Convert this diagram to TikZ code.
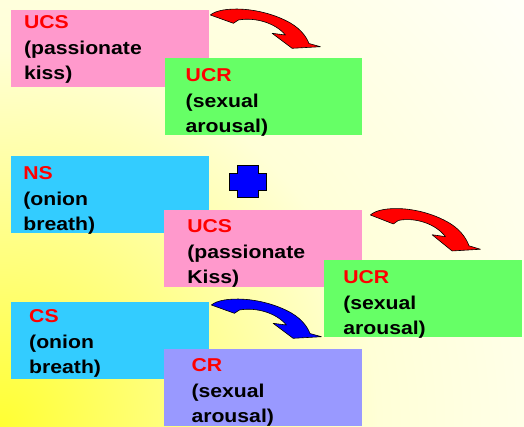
\documentclass[tikz,border=0pt]{standalone}
\usepackage{fontspec}
\newfontfamily\slidefont{Liberation Sans}[FakeStretch=1.14]
\usepackage{tikz}

\definecolor{kisspink}{RGB}{255,153,204}
\definecolor{arousalgreen}{RGB}{102,255,102}
\definecolor{breathblue}{RGB}{51,204,255}
\definecolor{crpurple}{RGB}{153,153,255}
\definecolor{termred}{RGB}{255,0,0}
\definecolor{plusblue}{RGB}{0,0,255}
\definecolor{glowA}{RGB}{255,255,51}
\definecolor{glowB}{RGB}{255,255,120}
\definecolor{glowC}{RGB}{255,255,215}
\definecolor{glowD}{RGB}{255,255,248}
\pgfdeclareradialshading{cornerglow}{\pgfpoint{0bp}{0bp}}{%
  color(0bp)=(glowA); color(5.5bp)=(glowB); color(13.5bp)=(glowC);
  color(24bp)=(glowD); color(50bp)=(glowD)}

\newcommand\term[1]{\textcolor{termred}{#1}}

\begin{document}
\begin{tikzpicture}[
      x=1pt, y=-1pt,
      box/.style 2 args = {shape=rectangle, anchor=north west,
        inner xsep=#1, inner ysep=0pt,
        text width=197.5pt-2*#1, text height=#2, text depth=77pt-#2,
        align=left, font=\slidefont\bfseries\fontsize{18.6}{25.5}\selectfont
      },
      bentarrow/.pic = {
        \draw[fill=#1, line width=0.6pt, line join=round]
          (0,0) .. controls (10,-9) and (50,-9) .. (80,8)
                .. controls (92,15) and (97,24) .. (98.5,28.5)
                -- (110,31.7) -- (81.7,33.3) -- (61.7,18.3) -- (75,20)
                .. controls (65,8) and (45,2) .. (28,5)
                -- (23,8.3) -- cycle;
      }
    ]
    \useasboundingbox (0,0) rectangle (524,426);
    \clip (0,0) rectangle (524,426);
    \shade[shading=cornerglow] (0,426) circle (700pt);

    % first row: UCS -> UCR
    \node[box={12.8pt}{18.3pt}, fill=kisspink] (ucsA) at (11,10)
      {\term{UCS}\\(passionate\\kiss)};
    \node[box={21.2pt}{23.7pt}, fill=arousalgreen] (ucrA) at (164.3,58)
      {\term{UCR}\\(sexual\\arousal)};

    % second row: NS + UCS -> UCR
    \node[box={12.1pt}{23.3pt}, fill=breathblue] (nsA) at (11,156)
      {\term{NS}\\(onion\\breath)};
    \node[box={23.1pt}{22.3pt}, fill=kisspink] (ucsB) at (164,210)
      {\term{UCS}\\(passionate\\Kiss)};
    \node[box={19.1pt}{23.3pt}, fill=arousalgreen] (ucrB) at (324,260)
      {\term{UCR}\\(sexual\\arousal)};

    % third row: CS -> CR
    \node[box={18pt}{20.3pt}, fill=breathblue] (csA) at (11,302)
      {\term{CS}\\(onion\\breath)};
    \node[box={27.3pt}{22.4pt}, fill=crpurple] (crA) at (164,349)
      {\term{CR}\\(sexual\\arousal)};

    % plus sign
    \draw[fill=plusblue, line width=0.6pt]
      (237.3,165) -- (258.3,165) -- (258.3,173.3) -- (266.7,173.3)
      -- (266.7,190) -- (258.3,190) -- (258.3,197.7) -- (237.3,197.7)
      -- (237.3,190) -- (229.3,190) -- (229.3,173.3) -- (237.3,173.3) -- cycle;

    % curved arrows
    \pic at ([shift={(1.5,5)}]ucsA.north east) {bentarrow=termred};
    \pic[yscale=1.08] at ([shift={(8.5,5)}]ucsB.north east) {bentarrow=termred};
    \pic at ([shift={(2.5,3)}]csA.north east) {bentarrow=plusblue};
\end{tikzpicture}
\end{document}
